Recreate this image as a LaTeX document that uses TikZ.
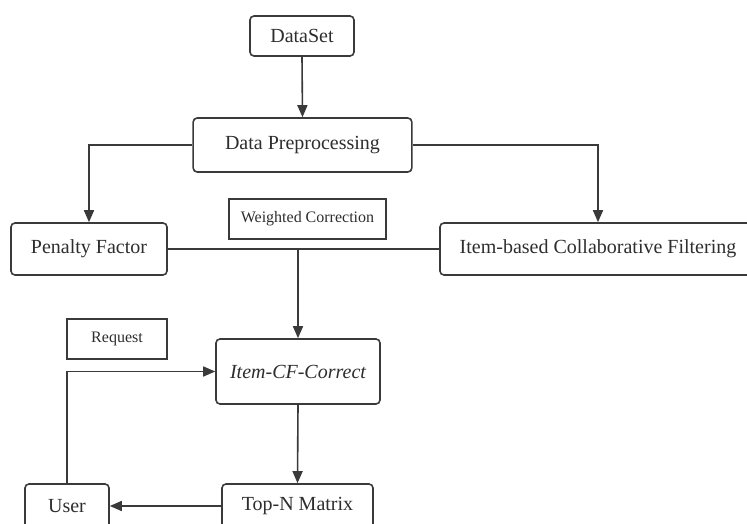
\documentclass[tikz,border=0pt]{standalone}
\usepackage{fontspec}
\setmainfont{Liberation Serif}
\usetikzlibrary{arrows.meta}
\definecolor{ln}{HTML}{3A3A3A}
\definecolor{tx}{HTML}{2E2E2E}
\tikzset{
  box/.style={draw=ln, line width=1.2pt, rounded corners=3pt, fill=white, text=tx,
    inner sep=0pt, font=\fontsize{15}{18}\selectfont},
  lbl/.style={draw=ln, line width=1.2pt, fill=white, text=tx, inner sep=0pt,
    font=\fontsize{12}{14}\selectfont},
  conn/.style={draw=ln, line width=1.2pt},
  arr/.style={conn, -{Triangle[length=9pt,width=7.5pt]}}
}
\begin{document}
\begin{tikzpicture}[x=0.75pt,y=-0.75pt]
\clip (0,0) rectangle (747,524);
\fill[white] (0,0) rectangle (747,524);
\node[box, minimum width=78pt, minimum height=30pt] (ds) at (302,36) {DataSet};
\node[box, minimum width=164pt, minimum height=40.5pt] (dp) at (302.5,145) {Data Preprocessing};
\node[lbl, minimum width=117.75pt, minimum height=30pt] (wc) at (307.5,219) {Weighted Correction};
\node[box, minimum width=117pt, minimum height=39pt] (pf) at (89,249) {Penalty Factor};
\node[box, minimum width=237pt, minimum height=39pt] (ib) at (598,249) {Item-based Collaborative Filtering};
\node[lbl, minimum width=75pt, minimum height=30pt] (req) at (117,339) {Request};
\node[box, minimum width=123pt, minimum height=48.75pt] (icf) at (298,371.5) {\itshape Item-CF-Correct};
\node[box, minimum width=113.25pt, minimum height=33pt] (top) at (297.5,506) {Top-N Matrix};
\node[box, minimum width=63pt, minimum height=33pt] (user) at (67,506) {User};
\draw[arr] (ds.south) -- (dp.north);
\draw[arr] (dp.west) -| (pf.north);
\draw[arr] (dp.east) -| (ib.north);
\draw[conn] (pf.east) -- (ib.west);
\coordinate (jn) at (pf.east -| icf.north);
\draw[arr] (jn) -- (icf.north);
\draw[arr] (user.north) |- (icf.west);
\draw[arr] (icf.south) -- (top.north);
\draw[arr] (top.west) -- (user.east);
\end{tikzpicture}
\end{document}
